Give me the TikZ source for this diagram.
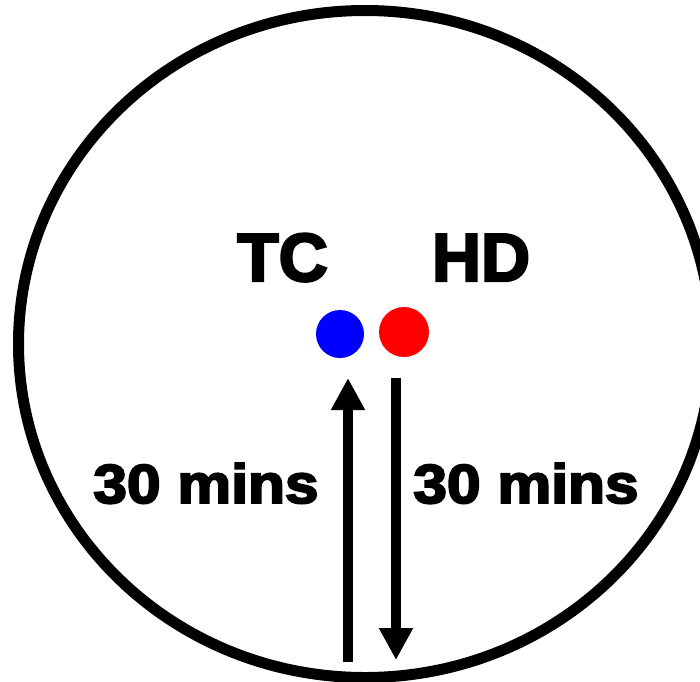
\documentclass[tikz,border=0pt]{standalone}
\usepackage{fontspec}
\newfontfamily\heavy{Liberation Sans}[FakeBold=3.5]
\usetikzlibrary{arrows.meta}

\begin{document}
\begin{tikzpicture}[x=1pt,y=-1pt,
        dot/.style={circle,inner sep=0pt,minimum size=48pt},
        tag/.style={anchor=base,inner sep=0pt,font=\heavy\bfseries\fontsize{68}{68}\selectfont},
        mins/.style={anchor=base,inner sep=0pt,font=\heavy\bfseries\fontsize{55}{55}\selectfont},
        flecha/.style={-{Triangle[length=32pt,width=32pt]},line width=10pt}]
        \useasboundingbox (0,0) rectangle (700,681);
        \draw[line width=11pt] (365,344) ellipse [x radius=346.5,y radius=333.5];
        \node[tag] (tc) at (282.5,281) {TC};
        \node[tag] (hd) at (481,281) {HD};
        \node[dot,fill=blue] (blue) at (340,334) {};
        \node[dot,fill=red,minimum size=50pt] (red) at (404,332) {};
        \coordinate (upstart) at (348,662);\coordinate (upend) at (348,378);
        \coordinate (downstart) at (396,378);\coordinate (downend) at (396,660);
        \draw[flecha] (upstart) -- (upend);\draw[flecha] (downstart) -- (downend);
        \node[mins] (tin) at (206,503) {\scalebox{1.1}[1]{30 mins}};
        \node[mins] (tout) at (526,503) {\scalebox{1.1}[1]{30 mins}};
      \end{tikzpicture}
\end{document}
